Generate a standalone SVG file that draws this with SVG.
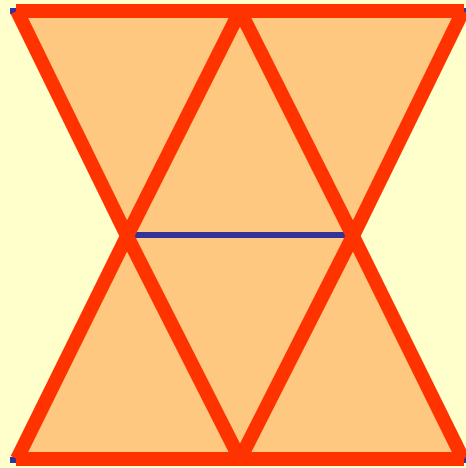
<svg xmlns="http://www.w3.org/2000/svg" width="466" height="468" viewBox="0 0 466 468">
<style>
.bg{fill:#FFFFCC}
.fill{fill:#FFC880;stroke:none}
.red{stroke:#FF3300;stroke-width:14;fill:none;stroke-linecap:butt}
.blue{stroke:#333399;stroke-width:6;fill:none}
</style>
<rect class="bg" x="0" y="0" width="466" height="468"/>
<g id="shapes">
<polygon class="fill" points="17,11 463,11 353,236 127,236"/>
<polygon class="fill" points="127,236 353,236 463,459 17,459"/>
</g>
<g id="connectors">
<line class="blue" x1="10" y1="11" x2="470" y2="11"/>
<line class="blue" x1="10" y1="460" x2="470" y2="460"/>
<line class="blue" x1="127" y1="235" x2="353" y2="235"/>
<line class="red" x1="17" y1="11" x2="127" y2="236"/>
<line class="red" x1="240" y1="11" x2="127" y2="236"/>
<line class="red" x1="240" y1="11" x2="353" y2="236"/>
<line class="red" x1="463" y1="11" x2="353" y2="236"/>
<line class="red" x1="127" y1="236" x2="17" y2="459"/>
<line class="red" x1="127" y1="236" x2="240" y2="459"/>
<line class="red" x1="353" y1="236" x2="240" y2="459"/>
<line class="red" x1="353" y1="236" x2="463" y2="459"/>
<line class="red" x1="16" y1="11" x2="464" y2="11"/>
<line class="red" x1="16" y1="459" x2="464" y2="459"/>
</g>
</svg>
